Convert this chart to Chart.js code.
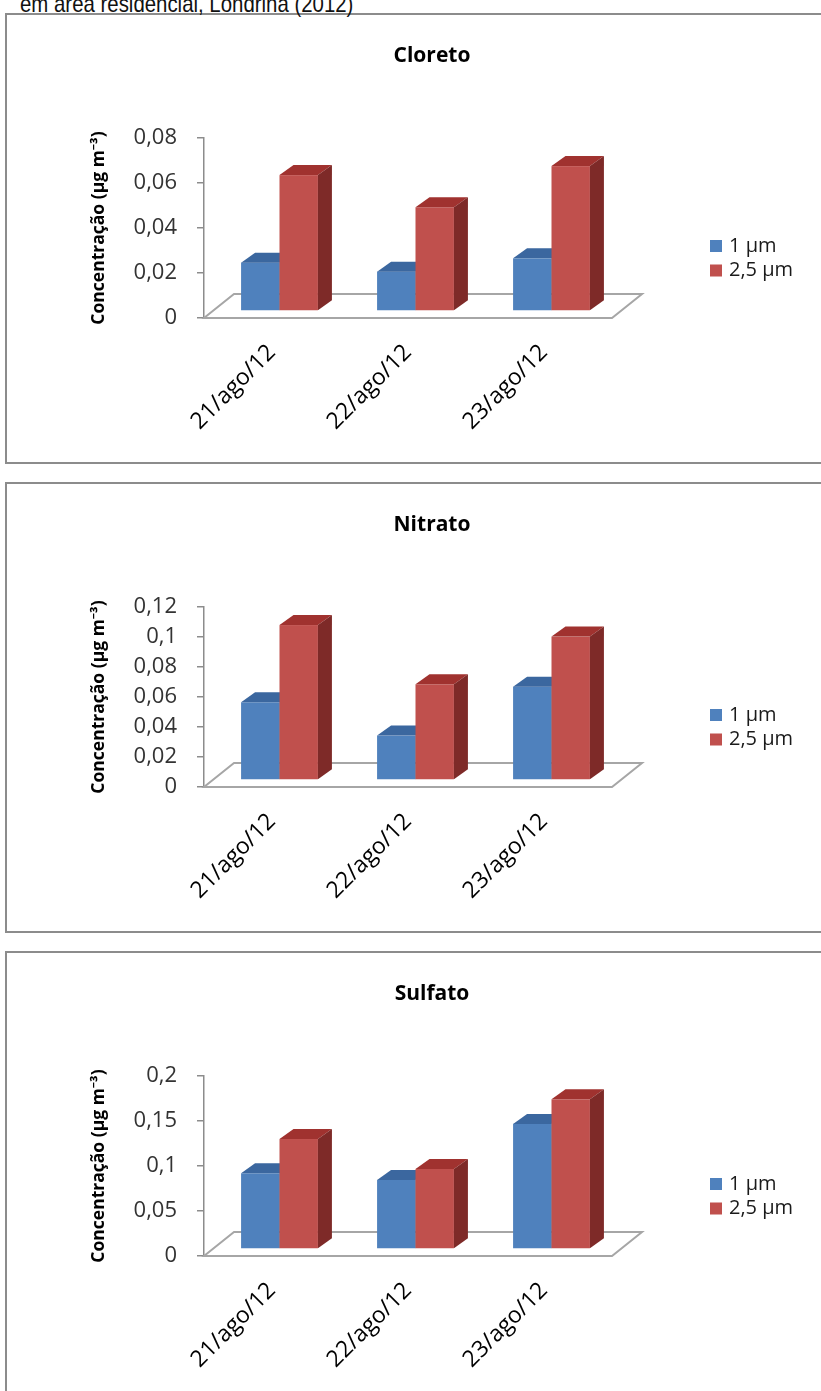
<!DOCTYPE html>
<html>
<head>
<meta charset="utf-8">
<script src="https://cdn.jsdelivr.net/npm/chart.js@4/dist/chart.umd.min.js"></script>
<style>
  body { margin: 0; background: #fff; width: 821px; height: 1391px; overflow: hidden; position: relative; }
  .caption { position: absolute; left: 20px; top: -8px; font: 24px/24px "Liberation Sans", Arial, sans-serif; color: #111; white-space: nowrap; transform: scaleX(0.85); transform-origin: 0 0; }
  .panel { position: absolute; left: 5px; width: 900px; height: 447px; border: 2px solid #8c8c8c; background: #fff; }
  canvas { position: absolute; left: 8px; }
</style>
</head>
<body>
<div class="panel" style="top:13px"></div>
<div class="panel" style="top:482px"></div>
<div class="panel" style="top:951px"></div>
<div class="caption">em área residencial, Londrina (2012)</div>
<canvas id="cloretoChart" width="813" height="445" style="top:16px"></canvas>
<canvas id="nitratoChart" width="813" height="445" style="top:485px"></canvas>
<canvas id="sulfatoChart" width="813" height="445" style="top:954px"></canvas>
<script>
// dates of sampling and particle sizes
const categories = ['21/ago/12', '22/ago/12', '23/ago/12'];
const seriesLabels = ['1 µm', '2,5 µm'];

// concentrations (µg m-3)
const cloreto1 = [0.0215, 0.0175, 0.0234];
const cloreto25 = [0.0604, 0.0461, 0.0644];
const nitrato1 = [0.0518, 0.0296, 0.0622];
const nitrato25 = [0.1033, 0.0638, 0.0956];
const sulfato1 = [0.0841, 0.0767, 0.139];
const sulfato25 = [0.1222, 0.0889, 0.1663];

// y axis ranges
const cloretoTicks = { max: 0.08, step: 0.02 };
const nitratoTicks = { max: 0.12, step: 0.02 };
const sulfatoTicks = { max: 0.2, step: 0.05 };

const frontColors = ['#4f81bd', '#c0504d'];
const topColors = ['#3b679f', '#a0322f'];
const sideColors = ['#355d90', '#7e2a28'];

const FONT = '"Open Sans", "Noto Sans", sans-serif';

// fake 3D look: floor + extruded columns, drawn from the bar elements
const bars3d = {
  id: 'bars3d',
  beforeDatasetsDraw(chart) {
    const ctx = chart.ctx;
    const a = chart.chartArea;
    const y0 = chart.scales.y.getPixelForValue(0);
    const dx = 30, dy = -24;
    ctx.save();
    ctx.strokeStyle = '#a6a6a6';
    ctx.lineWidth = 2;
    ctx.beginPath();
    ctx.moveTo(a.left, y0);
    ctx.lineTo(a.right, y0);
    ctx.lineTo(a.right + dx, y0 + dy);
    ctx.lineTo(a.left + dx, y0 + dy);
    ctx.closePath();
    ctx.stroke();
    ctx.restore();
  },
  beforeDatasetDraw() {
    return false;
  },
  afterDatasetsDraw(chart) {
    const ctx = chart.ctx;
    const ox = 7.5, oy = -7, dx = 14, dy = -10;
    ctx.save();
    for (let j = 0; j < categories.length; j++) {
      chart.data.datasets.forEach((ds, i) => {
        const bar = chart.getDatasetMeta(i).data[j];
        const L = bar.x - bar.width / 2 + ox;
        const R = bar.x + bar.width / 2 + ox;
        const T = bar.y + oy;
        const B = bar.base + oy;
        ctx.fillStyle = frontColors[i];
        ctx.fillRect(L, T, R - L, B - T);
        ctx.fillStyle = topColors[i];
        ctx.beginPath();
        ctx.moveTo(L, T);
        ctx.lineTo(R, T);
        ctx.lineTo(R + dx, T + dy);
        ctx.lineTo(L + dx, T + dy);
        ctx.closePath();
        ctx.fill();
        ctx.fillStyle = sideColors[i];
        ctx.beginPath();
        ctx.moveTo(R, T);
        ctx.lineTo(R + dx, T + dy);
        ctx.lineTo(R + dx, B + dy);
        ctx.lineTo(R, B);
        ctx.closePath();
        ctx.fill();
      });
    }
    ctx.restore();
  },
  afterDraw(chart) {
    const ctx = chart.ctx;
    const a = chart.chartArea;
    ctx.save();
    // chart title
    ctx.font = 'bold 21px ' + FONT;
    ctx.fillStyle = '#000';
    ctx.textAlign = 'center';
    ctx.textBaseline = 'middle';
    ctx.fillText(chart.options.chartTitle, 424, 40);
    // legend on the right
    ctx.font = '20px ' + FONT;
    ctx.textAlign = 'left';
    chart.data.datasets.forEach((ds, i) => {
      const x = a.right + 98;
      const y = a.top + 102 + i * 24.5;
      ctx.fillStyle = frontColors[i];
      ctx.fillRect(x, y, 12, 12);
      ctx.fillStyle = '#1a1a1a';
      ctx.fillText(ds.label, x + 19, y + 6);
    });
    ctx.restore();
  }
};

function fmt(v) {
  return parseFloat(v.toFixed(3)).toString().replace('.', ',');
}

function makeChart(id, title, d1, d25, range) {
  const ctx = document.getElementById(id).getContext('2d');
  return new Chart(ctx, {
    type: 'bar',
    data: {
      labels: categories,
      datasets: [
        { label: seriesLabels[0], data: d1, backgroundColor: frontColors[0] },
        { label: seriesLabels[1], data: d25, backgroundColor: frontColors[1] }
      ]
    },
    options: {
      chartTitle: title,
      responsive: false,
      animation: false,
      devicePixelRatio: 1,
      barPercentage: 1,
      categoryPercentage: 0.565,
      layout: { padding: { left: 0, right: 209, top: 122, bottom: 0 } },
      plugins: {
        legend: { display: false },
        tooltip: { enabled: false },
        title: { display: false }
      },
      scales: {
        x: {
          grid: { display: false },
          border: { display: false },
          ticks: {
            color: '#000',
            font: { family: FONT, size: 23 },
            minRotation: 45,
            maxRotation: 45,
            padding: 13
          },
          afterFit(s) { s.height = 143; }
        },
        y: {
          min: 0,
          max: range.max,
          border: { display: true, color: '#8c8c8c', width: 1.5 },
          grid: { display: true, drawOnChartArea: false, drawTicks: true, tickLength: 7, color: '#8c8c8c', lineWidth: 1.5 },
          ticks: {
            stepSize: range.step,
            color: '#333',
            padding: 20,
            font: { family: FONT, size: 22 },
            callback: v => fmt(v)
          },
          title: {
            display: true,
            text: 'Concentração (µg m⁻³)',
            color: '#000',
            font: { family: FONT, size: 17.5, weight: 'bold' },
            padding: { top: 81, bottom: 0 }
          },
          afterFit(s) { s.width = 196; }
        }
      }
    },
    plugins: [bars3d]
  });
}

makeChart('cloretoChart', 'Cloreto', cloreto1, cloreto25, cloretoTicks);
makeChart('nitratoChart', 'Nitrato', nitrato1, nitrato25, nitratoTicks);
makeChart('sulfatoChart', 'Sulfato', sulfato1, sulfato25, sulfatoTicks);
</script>
</body>
</html>
